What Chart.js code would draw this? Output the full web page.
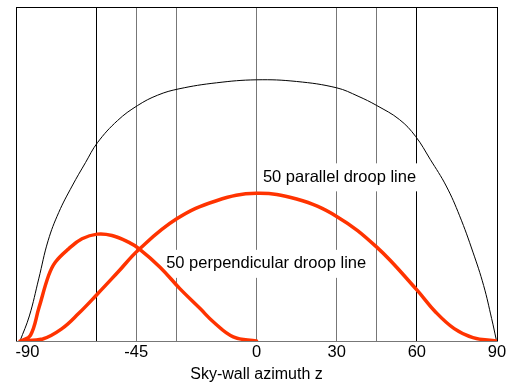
<!DOCTYPE html>
<html>
<head>
<meta charset="utf-8">
<script src="https://cdn.jsdelivr.net/npm/chart.js@4.4.1/dist/chart.umd.min.js"></script>
<style>
  html, body { margin: 0; padding: 0; background: #fff; }
  #wrap { width: 515px; height: 385px; }
</style>
</head>
<body>
<div id="wrap"><canvas id="droop"></canvas></div>
<script>
'use strict';

// x 軸の目盛り（縦の罫線）とラベル
const gridValues = [-90, -60, -45, -30, 0, 30, 45, 60, 90];
const labelValues = [-90, -45, 0, 30, 60, 90];

// 黒い細線（上の大きな山）
const totalX = [-88.5, -85, -81.5, -78, -74, -69, -64, -59.5, -52, -44.5, -37, -29, -15, 0, 15, 30, 38, 45, 53.5, 59.5, 65, 71, 76, 81, 85, 88, 89.7];
const totalY = [0, 0.075, 0.186, 0.30, 0.385, 0.464, 0.534, 0.594, 0.660, 0.705, 0.736, 0.755, 0.773, 0.782, 0.777, 0.758, 0.733, 0.705, 0.663, 0.613, 0.544, 0.464, 0.375, 0.266, 0.166, 0.067, 0.005];

// 50 parallel droop line
const parallelX = [-88.5, -80, -72.8, -66.6, -59.6, -52, -44, -30, -15, 0, 15, 30, 45, 60, 67, 74, 81, 89.7];
const parallelY = [0, 0.006, 0.037, 0.082, 0.140, 0.205, 0.274, 0.365, 0.420, 0.442, 0.425, 0.373, 0.281, 0.153, 0.087, 0.037, 0.010, 0];

// 50 perpendicular droop line
const perpX = [-88, -84.6, -81.5, -77.8, -75.3, -70.3, -65.3, -59.6, -54.1, -47.9, -43.9, -36.1, -28.6, -21.1, -16.1, -8.7, 0];
const perpY = [0, 0.017, 0.097, 0.196, 0.236, 0.276, 0.306, 0.320, 0.316, 0.296, 0.276, 0.221, 0.156, 0.097, 0.057, 0.0125, 0];

// 注記テキスト（データ座標で左端・中心高さ）
const notes = [
    { text: '50 parallel droop line', x: 2.4, y: 0.490 },
    { text: '50 perpendicular droop line', x: -33.8, y: 0.231 }
];

const FONT = 'Arial, "Liberation Sans", sans-serif';
const RED = '#ff3300';

function toPoints(xs, ys) {
    return xs.map((x, i) => ({ x: x, y: ys[i] }));
}

// 枠の上辺と、白地つきの注記
const notesPlugin = {
    id: 'notes',
    beforeDatasetsDraw(chart) {
        const ctx = chart.ctx;
        const area = chart.chartArea;
        const xs = chart.scales.x;
        const ys = chart.scales.y;
        ctx.save();
        ctx.strokeStyle = '#000';
        ctx.lineWidth = 1;
        ctx.beginPath();
        ctx.moveTo(area.left, Math.round(area.top) + 0.5);
        ctx.lineTo(area.right, Math.round(area.top) + 0.5);
        ctx.stroke();

        ctx.font = '16.5px ' + FONT;
        ctx.textBaseline = 'middle';
        ctx.textAlign = 'left';
        notes.forEach(n => {
            const px = xs.getPixelForValue(n.x);
            const py = ys.getPixelForValue(n.y);
            const w = ctx.measureText(n.text).width;
            ctx.fillStyle = '#fff';
            ctx.fillRect(px - 4, py - 14, w + 8, 28);
            ctx.fillStyle = '#000';
            ctx.fillText(n.text, px, py);
        });
        ctx.restore();
    }
};

new Chart(document.getElementById('droop'), {
    type: 'line',
    data: {
        datasets: [{
            label: '50 parallel droop line',
            data: toPoints(parallelX, parallelY),
            borderColor: RED,
            borderWidth: 3.5
        }, {
            label: '50 perpendicular droop line',
            data: toPoints(perpX, perpY),
            borderColor: RED,
            borderWidth: 3.5
        }, {
            label: 'total',
            data: toPoints(totalX, totalY),
            borderColor: '#000',
            borderWidth: 1
        }]
    },
    options: {
        responsive: true,
        maintainAspectRatio: false,
        animation: false,
        layout: { padding: { left: 16, right: 18, top: 7, bottom: 1 } },
        elements: {
            point: { radius: 0 },
            line: { tension: 0.4, borderCapStyle: 'round', borderJoinStyle: 'round', fill: false }
        },
        scales: {
            x: {
                type: 'linear',
                min: -90,
                max: 90,
                afterBuildTicks: scale => {
                    scale.ticks = gridValues.map(v => ({ value: v }));
                },
                afterFit: scale => {
                    scale.paddingLeft = 0;
                    scale.paddingRight = 0;
                },
                grid: {
                    drawTicks: false,
                    color: c => (Math.abs(c.tick.value) === 60 || Math.abs(c.tick.value) === 90) ? '#000' : '#777',
                    lineWidth: 1
                },
                border: { color: '#777' },
                ticks: {
                    autoSkip: false,
                    maxRotation: 0,
                    padding: 2,
                    color: '#000',
                    font: { family: FONT, size: 16.5 },
                    callback: v => {
                        if (!labelValues.includes(v)) return '';
                        return v === -90 ? '     -90' : String(v);
                    }
                },
                title: {
                    display: true,
                    text: 'Sky-wall azimuth z',
                    color: '#000',
                    font: { family: FONT, size: 16 },
                    padding: { top: 0, bottom: 0 }
                }
            },
            y: {
                display: false,
                min: 0,
                max: 1
            }
        },
        plugins: {
            legend: { display: false },
            tooltip: { enabled: false }
        }
    },
    plugins: [notesPlugin]
});
</script>
</body>
</html>
